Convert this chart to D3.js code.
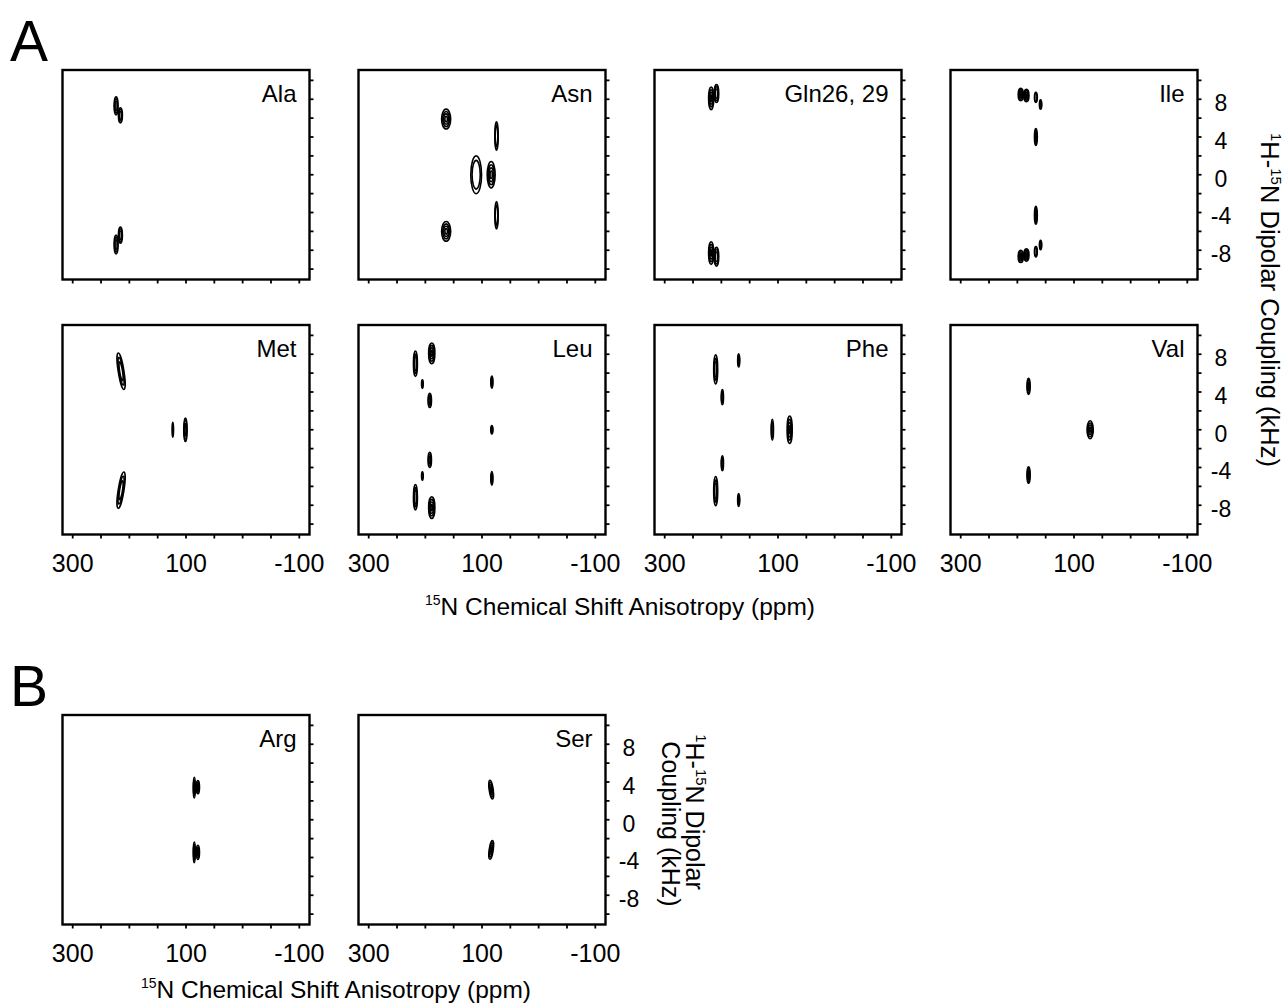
<!DOCTYPE html>
<html>
<head>
<meta charset="utf-8">
<script src="https://cdn.jsdelivr.net/npm/d3@7"></script>
<style>
  body { margin: 0; background: #fff; }
  text { font-family: "Liberation Sans", Arial, Helvetica, sans-serif; fill: #000; }
</style>
</head>
<body>
<div id="chart"></div>
<script>
// axis values
var xTicks = [300, 250, 200, 150, 100, 50, 0, -50, -100]
var xTickLabels = [300, 100, -100]
var yTicks = [-10, -8, -6, -4, -2, 0, 2, 4, 6, 8, 10]
var yTickLabels = [8, 4, 0, -4, -8]

// peaks: [15N shift (ppm), 1H-15N coupling (kHz), half width (ppm), half height (kHz), contour levels, tilt (deg)]
var ala = [[223.4, 7.3, 3.5, 0.95, 3, 0], [215.8, 6.3, 3.5, 0.8, 3, 0],
           [223.4, -7.4, 3.5, 1.0, 3, 0], [215.8, -6.4, 3.5, 0.85, 3, 0]]
var asn = [[163.3, 5.9, 8, 1.05, 4, 0], [163.3, -6.0, 8, 1.05, 4, 0],
           [74.4, 4.1, 3, 1.5, 2, 0], [74.4, -4.3, 3, 1.45, 2, 0],
           [110.3, 0, 9.5, 2.0, 2, 0], [83.8, 0, 7, 1.4, 4, 0]]
var gln = [[218, 8.1, 4.5, 1.2, 4, 0], [208.6, 8.6, 4, 0.95, 3, 0],
           [218, -8.3, 4.5, 1.2, 4, 0], [208.6, -8.7, 4, 1.0, 3, 0]]
var ile = [[194, 8.5, 4.5, 0.65, 4, 0], [184, 8.4, 4.5, 0.65, 4, 0], [167.3, 8.2, 2.5, 0.55, 2, 0], [159, 7.45, 2, 0.5, 2, 0],
           [167.3, 4.0, 2.5, 0.9, 3, 0], [167.3, -4.3, 2.5, 0.95, 3, 0],
           [194, -8.65, 4.5, 0.65, 4, 0], [184, -8.5, 4.5, 0.65, 4, 0], [167.3, -8.15, 2.5, 0.55, 2, 0], [159, -7.45, 2, 0.5, 2, 0]]
var met = [[214.6, 6.2, 5, 1.95, 3, -9], [214.6, -6.4, 5, 1.95, 3, 9],
           [123.3, 0, 1.3, 0.8, 1, 0], [101, 0, 3, 1.25, 3, 0]]
var leu = [[217.5, 7.0, 3.5, 1.35, 3, 0], [188.7, 8.1, 5.5, 1.1, 4, 0], [205.2, 4.85, 1.5, 0.45, 1, 0],
           [192.2, 3.1, 3, 0.75, 3, 0], [82.6, 5.05, 1.8, 0.65, 2, 0], [82.6, 0, 1.8, 0.45, 2, 0],
           [82.6, -5.15, 1.8, 0.72, 2, 0], [192.2, -3.2, 3, 0.8, 3, 0], [205.2, -4.9, 1.5, 0.45, 1, 0],
           [217.5, -7.15, 3.5, 1.35, 3, 0], [188.7, -8.25, 5.5, 1.15, 4, 0]]
var phe = [[210, 6.4, 3.5, 1.55, 3, 0], [169.4, 7.35, 1.8, 0.7, 2, 0], [198.2, 3.45, 2, 0.8, 2, 0],
           [110, 0, 2, 1.1, 2, 0], [79.4, 0, 4.5, 1.45, 4, 0],
           [198.2, -3.55, 2, 0.8, 2, 0], [210, -6.5, 3.5, 1.55, 3, 0], [169.4, -7.45, 1.8, 0.68, 2, 0]]
var val = [[180.2, 4.6, 2.8, 0.85, 3, 0], [180.2, -4.8, 2.8, 0.88, 3, 0], [71.5, 0, 5.5, 0.95, 4, 0]]
var arg = [[85.4, 3.4, 1.8, 1.1, 2, 0], [79, 3.45, 2.8, 0.7, 3, 0],
           [85.4, -3.45, 1.8, 1.1, 2, 0], [79, -3.45, 2.8, 0.75, 3, 0]]
var ser = [[83.8, 3.2, 3.5, 1.0, 4, -8], [83.8, -3.2, 3.5, 1.0, 4, 8]]

var panelsA = [
  { name: "Ala", peaks: ala }, { name: "Asn", peaks: asn }, { name: "Gln26, 29", peaks: gln }, { name: "Ile", peaks: ile },
  { name: "Met", peaks: met }, { name: "Leu", peaks: leu }, { name: "Phe", peaks: phe }, { name: "Val", peaks: val }
]
var panelsB = [{ name: "Arg", peaks: arg }, { name: "Ser", peaks: ser }]

// layout
var width = 1285
var height = 1005
var panelW = 247
var panelH = 209.5
var colStep = 296
var left0 = 62.5

var svg = d3.select("#chart")
  .append("svg")
  .attr("width", width)
  .attr("height", height)

var x = d3.scaleLinear().domain([318, -118]).range([0, panelW])
var y = d3.scaleLinear().domain([11.1, -11.1]).range([0, panelH])

function drawPanel(p, px, py, showX, showY) {
  var g = svg.append("g").attr("transform", "translate(" + px + "," + py + ")")

  // peaks as nested contour ellipses
  p.peaks.forEach(function (d) {
    var cx = x(d[0]), cy = y(d[1])
    var rx = Math.abs(x(d[0] + d[2]) - x(d[0]))
    var ry = Math.abs(y(d[1] + d[3]) - y(d[1]))
    var levels = d3.range(d[4])
    g.append("g")
      .attr("transform", "translate(" + cx + "," + cy + ") rotate(" + d[5] + ")")
      .selectAll("ellipse")
      .data(levels)
      .enter()
      .append("ellipse")
      .attr("rx", function (k) { return Math.max(0.7, rx * (1 - k * 0.24)) })
      .attr("ry", function (k) { return Math.max(0.9, ry * (1 - k * 0.24)) })
      .attr("fill", "none")
      .attr("stroke", "#000")
      .attr("stroke-width", 1.6)
  })

  g.append("rect")
    .attr("width", panelW)
    .attr("height", panelH)
    .attr("fill", "none")
    .attr("stroke", "#000")
    .attr("stroke-width", 2.4)

  // bottom ticks
  g.selectAll(".xt")
    .data(xTicks)
    .enter()
    .append("line")
    .attr("x1", function (d) { return x(d) })
    .attr("x2", function (d) { return x(d) })
    .attr("y1", panelH)
    .attr("y2", panelH + 4)
    .attr("stroke", "#000")
    .attr("stroke-width", 1.8)

  // right ticks
  g.selectAll(".yt")
    .data(yTicks)
    .enter()
    .append("line")
    .attr("x1", panelW)
    .attr("x2", panelW + 4)
    .attr("y1", function (d) { return y(d) })
    .attr("y2", function (d) { return y(d) })
    .attr("stroke", "#000")
    .attr("stroke-width", 1.8)

  g.append("text")
    .attr("x", panelW - 13)
    .attr("y", 32)
    .attr("text-anchor", "end")
    .style("font-size", "24px")
    .text(p.name)

  if (showX) {
    g.selectAll(".xl")
      .data(xTickLabels)
      .enter()
      .append("text")
      .attr("x", function (d) { return x(d) })
      .attr("y", panelH + 37)
      .attr("text-anchor", "middle")
      .style("font-size", "25px")
      .text(function (d) { return d })
  }
  if (showY) {
    g.selectAll(".yl")
      .data(yTickLabels)
      .enter()
      .append("text")
      .attr("x", panelW + 23.5)
      .attr("y", function (d) { return y(d) + 12 })
      .attr("text-anchor", "middle")
      .style("font-size", "23px")
      .text(function (d) { return d })
  }
}

panelsA.forEach(function (p, i) {
  var col = i % 4, row = Math.floor(i / 4)
  drawPanel(p, left0 + col * colStep, row === 0 ? 70 : 325, row === 1, col === 3)
})
panelsB.forEach(function (p, i) {
  drawPanel(p, left0 + i * colStep, 715, true, i === 1)
})

// panel letters
svg.append("text").attr("x", 10).attr("y", 61).style("font-size", "57px").text("A")
svg.append("text").attr("x", 10).attr("y", 706).style("font-size", "57px").text("B")

// axis titles
function xTitle(cx, by) {
  var t = svg.append("text")
    .attr("x", cx)
    .attr("y", by)
    .attr("text-anchor", "middle")
    .style("font-size", "24.5px")
  t.append("tspan").attr("dy", -10).style("font-size", "14px").text("15")
  t.append("tspan").attr("dy", 10).text("N Chemical Shift Anisotropy (ppm)")
}
xTitle(620, 615)
xTitle(336, 998)

var yt = svg.append("text")
  .attr("transform", "translate(1261,300) rotate(90)")
  .attr("text-anchor", "middle")
  .style("font-size", "25.5px")
yt.append("tspan").attr("dy", -10).style("font-size", "15px").text("1")
yt.append("tspan").attr("dy", 10).text("H-")
yt.append("tspan").attr("dy", -10).style("font-size", "15px").text("15")
yt.append("tspan").attr("dy", 10).text("N Dipolar Coupling (kHz)")

var ytB = svg.append("text")
  .attr("transform", "translate(686,812) rotate(90)")
  .attr("text-anchor", "middle")
  .style("font-size", "25px")
ytB.append("tspan").attr("dy", -10).style("font-size", "15px").text("1")
ytB.append("tspan").attr("dy", 10).text("H-")
ytB.append("tspan").attr("dy", -10).style("font-size", "15px").text("15")
ytB.append("tspan").attr("dy", 10).text("N Dipolar")
svg.append("text")
  .attr("transform", "translate(662,824) rotate(90)")
  .attr("text-anchor", "middle")
  .style("font-size", "25px")
  .text("Coupling (kHz)")
</script>
</body>
</html>
